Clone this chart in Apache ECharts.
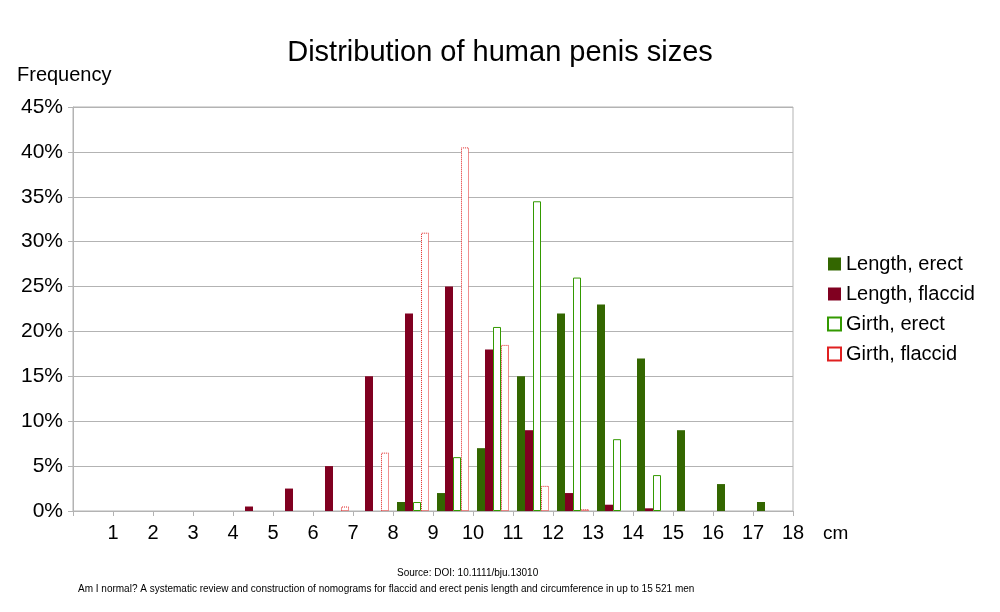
<!DOCTYPE html>
<html><head><meta charset="utf-8">
<script src="https://cdn.jsdelivr.net/npm/echarts@6/dist/echarts.min.js"></script>
<style>body{margin:0}#c{width:1000px;height:612px}</style></head>
<body><div id="c"></div>
<script>
// category c spans tick c-1 .. c ; '-' = no bar
var cats = ['1','2','3','4','5','6','7','8','9','10','11','12','13','14','15','16','17','18']
var lengthErect   = ['-','-','-','-','-','-','-','-',1,2,7,15,22,23,17,9,3,1]
var lengthFlaccid = ['-','-','-','-',0.5,2.5,5,15,22,25,18,9,2,0.7,0.3,'-','-','-']
var girthErect    = ['-','-','-','-','-','-','-','-',1,6,20.5,34.5,26,8,4,'-','-','-']
var girthFlaccid  = ['-','-','-','-','-','-',0.5,6.5,31,40.5,18.5,2.8,0.2,'-','-','-','-','-']

var chart = echarts.init(document.getElementById('c'))
var font = 'Liberation Sans'
function bar(name, data, style) {
  return { name: name, type: 'bar', data: data, barGap: '0%', barCategoryGap: '20%', itemStyle: style }
}
chart.setOption({
  animation: false,
  textStyle: { fontFamily: font },
  title: [
    { text: 'Distribution of human penis sizes', left: 'center', top: 33, textStyle: { fontSize: 29, fontWeight: 'normal', color: '#000', fontFamily: font } },
    { text: 'Source: DOI: 10.1111/bju.13010', left: 392, top: 563, textStyle: { fontSize: 10, fontWeight: 'normal', color: '#000', fontFamily: font } },
    { text: 'Am I normal? A systematic review and construction of nomograms for flaccid and erect penis length and circumference in up to 15 521 men', left: 73, top: 579, textStyle: { fontSize: 10, fontWeight: 'normal', color: '#000', fontFamily: font } }
  ],
  legend: {
    orient: 'vertical', left: 822, top: 249, itemWidth: 13, itemHeight: 13, itemGap: 10, icon: 'rect',
    textStyle: { fontSize: 20, color: '#000', fontFamily: font }
  },
  grid: { left: 73, right: 207, top: 107, bottom: 101, show: true, borderColor: '#b3b3b3', borderWidth: 1 },
  xAxis: [
    { type: 'category', data: cats, axisLabel: { show: false }, axisTick: { show: false }, axisLine: { lineStyle: { color: '#b3b3b3' } } },
    { type: 'value', position: 'bottom', min: 0, max: 18, interval: 1, name: 'cm', nameGap: 30, nameLocation: 'end',
      nameTextStyle: { fontSize: 19, color: '#000', verticalAlign: 'top', padding: [13, 0, 0, 0] },
      axisLabel: { fontSize: 20, color: '#000', margin: 12, formatter: function (v) { return v === 0 ? '' : v } },
      axisTick: { show: true, length: 5, lineStyle: { color: '#b3b3b3' } },
      axisLine: { show: false }, splitLine: { show: false } }
  ],
  yAxis: {
    type: 'value', min: 0, max: 45, interval: 5,
    name: 'Frequency', nameLocation: 'end', nameGap: 22,
    nameTextStyle: { fontSize: 20, color: '#000', align: 'left', padding: [0, 0, 0, -56] },
    axisLabel: { fontSize: 21, color: '#000', formatter: '{value}%', margin: 10 },
    axisLine: { show: true, lineStyle: { color: '#b3b3b3' } },
    axisTick: { show: true, length: 5, lineStyle: { color: '#b3b3b3' } },
    splitLine: { lineStyle: { color: '#b3b3b3' } }
  },
  series: [
    bar('Length, erect', lengthErect, { color: '#336600' }),
    bar('Length, flaccid', lengthFlaccid, { color: '#800020' }),
    bar('Girth, erect', girthErect, { color: '#ffffff', borderColor: '#339900', borderWidth: 1 }),
    bar('Girth, flaccid', girthFlaccid, { color: '#ffffff', borderColor: '#e02020', borderWidth: 1, borderType: 'dotted' })
  ]
})
</script></body></html>
